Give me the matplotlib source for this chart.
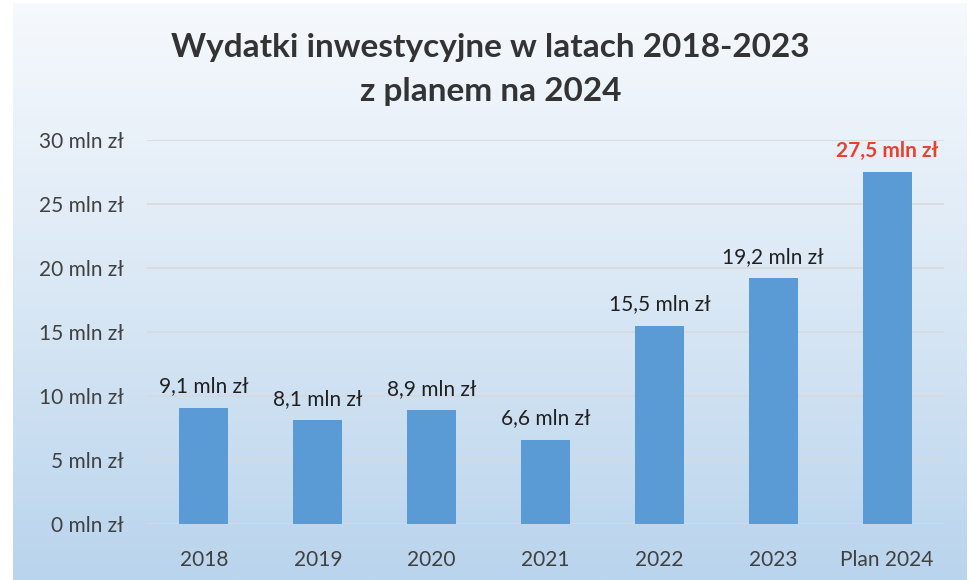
import numpy as np
import matplotlib
matplotlib.use("Agg")
import matplotlib.pyplot as plt
from matplotlib.colors import LinearSegmentedColormap

plt.rcParams['font.family'] = ['Lato', 'DejaVu Sans']

#data
years = ['2018', '2019', '2020', '2021', '2022', '2023', 'Plan 2024']
values = [9.1, 8.1, 8.9, 6.6, 15.5, 19.2, 27.5]
labels = ['9,1 mln zł', '8,1 mln zł', '8,9 mln zł', '6,6 mln zł',
          '15,5 mln zł', '19,2 mln zł', '27,5 mln zł']
yticks = [0, 5, 10, 15, 20, 25, 30]

fig = plt.figure(figsize=(9.71, 5.8), dpi=100)

#gradient background panel
bg = fig.add_axes([13/971, 0, 953/971, 577/580], zorder=0)
cmap = LinearSegmentedColormap.from_list('bg', ['#f6f9fd', '#dae8f5', '#b9d4ed'])
grad = np.linspace(0, 1, 256).reshape(-1, 1)
bg.imshow(grad, aspect='auto', cmap=cmap, extent=[0, 1, 0, 1], origin='upper')
bg.set_axis_off()

ax = fig.add_axes([147/971, 56/580, 797/971, 384/580], zorder=1)
ax.patch.set_alpha(0)
x = np.arange(len(years))
bars = ax.bar(x, values, width=0.43, color='#5b9bd5', zorder=2)

ax.set_ylim(0, 30)
ax.set_xlim(-0.5, len(years) - 0.5)
ax.set_yticks(yticks)
ax.set_yticklabels([f'{t} mln zł' for t in yticks], fontsize=15, color='#404040')
ax.set_xticks(x)
ax.set_xticklabels(years, fontsize=15, color='#404040')
ax.tick_params(length=0)
ax.tick_params(axis='y', pad=17)
ax.tick_params(axis='x', pad=19)
ax.yaxis.grid(True, color='#d9d9d9', linewidth=1.2, zorder=0)
for s in ax.spines.values():
    s.set_visible(False)

for i, (b, lab) in enumerate(zip(bars, labels)):
    last = i == len(labels) - 1
    ax.annotate(lab, (b.get_x() + b.get_width() / 2, b.get_height()),
                xytext=(0, 8), textcoords='offset points', ha='center', va='bottom',
                fontsize=15, color='#e8412c' if last else '#202020',
                fontweight='bold' if last else 'normal')

fig.text(0.505, 1 - 47/580, 'Wydatki inwestycyjne w latach 2018-2023',
         ha='center', va='center', fontsize=24, fontweight='bold', color='#333333', zorder=3)
fig.text(0.505, 1 - 92/580, 'z planem na 2024',
         ha='center', va='center', fontsize=24, fontweight='bold', color='#333333', zorder=3)

fig.savefig('out.png', dpi=100, facecolor='white')
